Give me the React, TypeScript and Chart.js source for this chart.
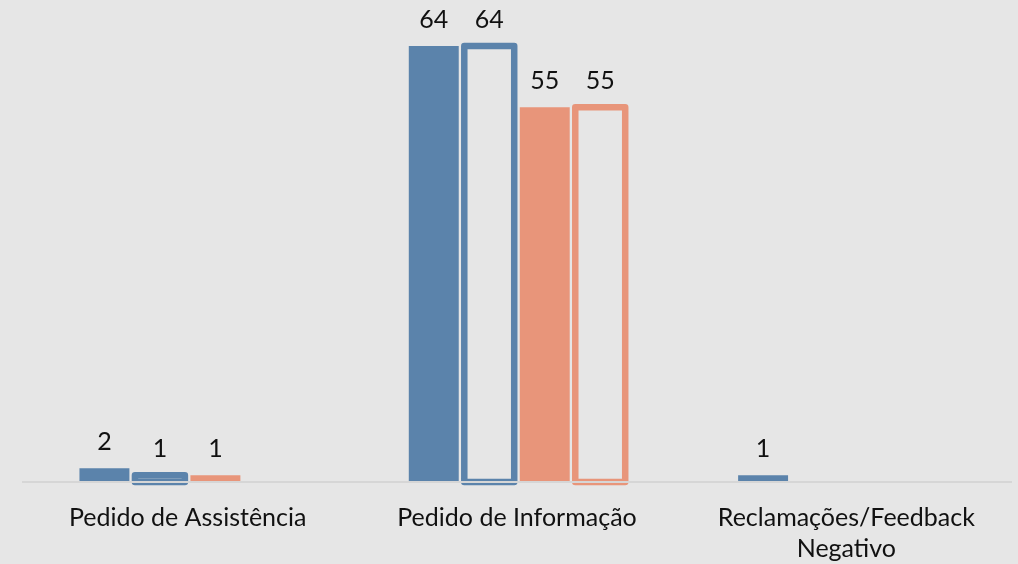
import React, { useEffect, useRef } from "react";
import { Chart, registerables } from "chart.js";

Chart.register(...registerables);

const categories: (string | string[])[] = [
  "Pedido de Assistência",
  "Pedido de Informação",
  ["Reclamações/Feedback", "Negativo"],
];

const blueFilled: (number | null)[] = [2, 64, 1];
const blueOutline: (number | null)[] = [1, 64, null];
const salmonFilled: (number | null)[] = [1, 55, null];
const salmonOutline: (number | null)[] = [null, 55, null];

const BLUE = "#5b83ab";
const SALMON = "#e8957a";
const BG = "#e6e6e6";
const FONT = "Lato, 'Open Sans', sans-serif";
const FONT_SIZE = 25;

// Paints the canvas background.
const backgroundPlugin = {
  id: "bgFill",
  beforeDraw(chart: any) {
    const { ctx, width, height } = chart;
    ctx.save();
    ctx.fillStyle = BG;
    ctx.fillRect(0, 0, width, height);
    ctx.restore();
  },
};

// Strokes the hollow bars with a thick centred outline and writes value labels.
const barDecorPlugin = {
  id: "barDecor",
  afterDatasetsDraw(chart: any) {
    const { ctx } = chart;
    ctx.save();
    chart.data.datasets.forEach((ds: any, di: number) => {
      const meta = chart.getDatasetMeta(di);
      if (meta.hidden) return;
      meta.data.forEach((el: any, i: number) => {
        const v = ds.data[i];
        if (v === null || v === undefined) return;
        const { x, y, base, width } = el.getProps(["x", "y", "base", "width"], true);
        if (ds.outlineColor) {
          ctx.strokeStyle = ds.outlineColor;
          ctx.lineWidth = 6.5;
          ctx.lineJoin = "round";
          ctx.strokeRect(x - width / 2, y, width, base - y);
        }
        ctx.fillStyle = "#111111";
        ctx.font = `${FONT_SIZE}px ${FONT}`;
        ctx.textAlign = "center";
        ctx.textBaseline = "middle";
        ctx.fillText(String(v), x, y - 26);
      });
    });
    ctx.restore();
  },
};

export default function App() {
  const canvasRef = useRef<HTMLCanvasElement | null>(null);

  useEffect(() => {
    if (!canvasRef.current) return;
    const chart = new Chart(canvasRef.current, {
      type: "bar",
      data: {
        labels: categories,
        datasets: [
          { data: blueFilled, backgroundColor: BLUE, borderWidth: 0 },
          { data: blueOutline, backgroundColor: "rgba(0,0,0,0)", borderWidth: 0, outlineColor: BLUE } as any,
          { data: salmonFilled, backgroundColor: SALMON, borderWidth: 0 },
          { data: salmonOutline, backgroundColor: "rgba(0,0,0,0)", borderWidth: 0, outlineColor: SALMON } as any,
        ],
      },
      options: {
        responsive: false,
        animation: false,
        layout: { padding: { top: 5, left: 23, right: 7, bottom: 0 } },
        datasets: { bar: { categoryPercentage: 0.674, barPercentage: 0.9 } },
        plugins: { legend: { display: false }, tooltip: { enabled: false } },
        scales: {
          x: {
            grid: { display: false, drawTicks: false },
            border: { display: true, color: "#d6d6d6", width: 2, z: 1 },
            ticks: {
              color: "#111111",
              padding: 20,
              maxRotation: 0,
              autoSkip: false,
              font: { family: FONT, size: FONT_SIZE, lineHeight: 1.25 },
            },
            afterFit: (scale: any) => {
              scale.height = 82;
            },
          },
          y: {
            display: false,
            min: 0,
            max: 70,
          },
        },
      },
      plugins: [backgroundPlugin, barDecorPlugin],
    });
    return () => chart.destroy();
  }, []);

  return (
    <div style={{ position: "absolute", left: 0, top: 0, width: 1018, height: 564, background: BG }}>
      <canvas ref={canvasRef} width={1018} height={564} style={{ display: "block" }} />
    </div>
  );
}
